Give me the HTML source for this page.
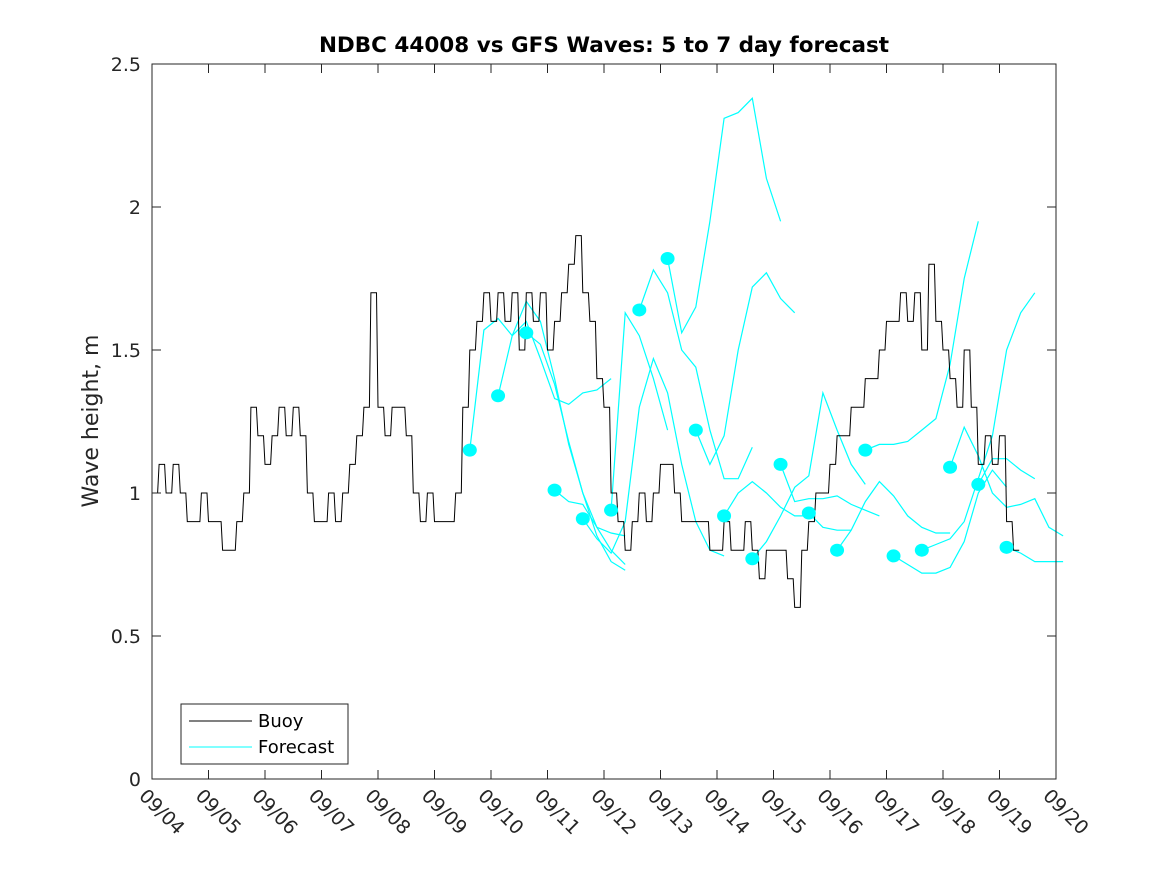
<!DOCTYPE html>
<html><head><meta charset="utf-8"><style>
html,body{margin:0;padding:0;background:#fff;}
svg{display:block;font-family:"DejaVu Sans","Liberation Sans",sans-serif;}
</style></head><body>
<svg id="chart" width="1167" height="875" viewBox="0 0 1167 875" xmlns="http://www.w3.org/2000/svg">
<rect width="1167" height="875" fill="#fff"/>
<text x="604" y="52" text-anchor="middle" font-size="21.5" font-weight="bold" fill="#000">NDBC 44008 vs GFS Waves: 5 to 7 day forecast</text>
<text transform="translate(98,421) rotate(-90)" text-anchor="middle" font-size="22" fill="#262626">Wave height, m</text>
<g id="plot"></g>
<g id="axes"></g>
<g>
<rect x="181" y="704" width="167" height="60" fill="#fff" stroke="#262626" stroke-width="1"/>
<line x1="189" y1="721" x2="252" y2="721" stroke="#000" stroke-width="1"/>
<text x="258" y="727" font-size="18" fill="#000">Buoy</text>
<line x1="189" y1="747" x2="252" y2="747" stroke="#00ffff" stroke-width="1"/>
<text x="258" y="753" font-size="18" fill="#000">Forecast</text>
</g>
</svg>
<script>
const xTickLabels=["09/04","09/05","09/06","09/07","09/08","09/09","09/10","09/11","09/12","09/13","09/14","09/15","09/16","09/17","09/18","09/19","09/20"];
const yTicks=[0,0.5,1,1.5,2,2.5];
const yTickLabels=["0","0.5","1","1.5","2","2.5"];
const buoyStartDay=0;
const buoyStep=0.125;
const buoyValues=[
1.0,1.1,1.0,1.1,1.0,0.9,0.9,1.0,
0.9,0.9,0.8,0.8,0.9,1.0,1.3,1.2,
1.1,1.2,1.3,1.2,1.3,1.2,1.0,0.9,
0.9,1.0,0.9,1.0,1.1,1.2,1.3,1.7,
1.3,1.2,1.3,1.3,1.2,1.0,0.9,1.0,
0.9,0.9,0.9,1.0,1.3,1.5,1.6,1.7,
1.6,1.7,1.6,1.7,1.5,1.7,1.6,1.7,
1.5,1.6,1.7,1.8,1.9,1.7,1.6,1.4,
1.3,1.0,0.9,0.8,0.9,1.0,0.9,1.0,
1.1,1.1,1.0,0.9,0.9,0.9,0.9,0.8,
0.8,0.9,0.8,0.8,0.9,0.8,0.7,0.8,
0.8,0.8,0.7,0.6,0.8,0.9,1.0,1.0,
1.1,1.2,1.2,1.3,1.3,1.4,1.4,1.5,
1.6,1.6,1.7,1.6,1.7,1.5,1.8,1.6,
1.5,1.4,1.3,1.5,1.3,1.1,1.2,1.1,
1.2,0.9,0.8];
const fcStep=0.25;
const fcStarts=[5.625,6.125,6.625,7.125,7.625,8.125,8.625,9.125,9.625,10.125,10.625,11.125,11.625,12.125,12.625,13.125,13.625,14.125,14.625,15.125];
const fc0=[1.15,1.57,1.61,1.55,1.60,1.47,1.33,1.31,1.35,1.36,1.40];
const fc1=[1.34,1.55,1.67,1.60,1.40,1.17,1.00,0.85,0.76,0.73];
const fc2=[1.56,1.52,1.38,1.18,1.00,0.88,0.80,0.75];
const fc3=[1.01,0.97,0.96,0.88,0.86,0.85];
const fc4=[0.91,0.84,0.79,0.90,1.30,1.47,1.35,1.10,0.90,0.80,0.78];
const fc5=[0.94,1.63,1.55,1.40,1.22];
const fc6=[1.64,1.78,1.70,1.50,1.44,1.22,1.05,1.05,1.16];
const fc7=[1.82,1.56,1.65,1.95,2.31,2.33,2.38,2.10,1.95];
const fc8=[1.22,1.10,1.20,1.50,1.72,1.77,1.68,1.63];
const fc9=[0.92,1.00,1.04,1.00,0.95,0.92,0.92];
const fc10=[0.77,0.83,0.92,1.02,1.06,1.35,1.22,1.10,1.03];
const fc11=[1.10,0.97,0.98,0.98,0.99,0.96,0.94,0.92];
const fc12=[0.93,0.88,0.87,0.87];
const fc13=[0.80,0.87,0.97,1.04,0.99,0.92,0.88,0.86,0.86];
const fc14=[1.15,1.17,1.17,1.18,1.22,1.26,1.45,1.75,1.95];
const fc15=[0.78,0.75,0.72,0.72,0.74,0.83,1.00,1.08,1.02];
const fc16=[0.80,0.82,0.84,0.90,1.05,1.20,1.50,1.63,1.70];
const fc17=[1.09,1.23,1.13,1.00,0.95,0.96,0.98,0.88,0.85];
const fc18=[1.03,1.12,1.12,1.08,1.05];
const fc19=[0.81,0.79,0.76,0.76,0.76];
const fcSeries=[fc0,fc1,fc2,fc3,fc4,fc5,fc6,fc7,fc8,fc9,fc10,fc11,fc12,fc13,fc14,fc15,fc16,fc17,fc18,fc19];

const L=152,R=1056,T=64,B=779,xMax=16,yMax=2.5;
const xs=d=>L+(R-L)*d/xMax;
const ys=v=>B-(B-T)*v/yMax;
const NS="http://www.w3.org/2000/svg";
const plot=document.getElementById('plot'),axes=document.getElementById('axes');
function mk(tag,attrs,parent){const e=document.createElementNS(NS,tag);for(const k in attrs)e.setAttribute(k,attrs[k]);parent.appendChild(e);return e;}

fcSeries.forEach((s,i)=>{
  const pts=s.map((v,j)=>xs(fcStarts[i]+j*fcStep).toFixed(1)+','+ys(v).toFixed(1)).join(' ');
  const pl=mk('polyline',{points:pts,fill:'none',stroke:'#00ffff','stroke-width':1.2},plot);
  
  
});
let bp=[];
buoyValues.forEach((v,j)=>{
  const x0=xs(buoyStartDay+j*buoyStep), x1=xs(buoyStartDay+(j+1)*buoyStep)-1.5, y=ys(v);
  bp.push(x0.toFixed(1)+','+y.toFixed(1));
  bp.push(x1.toFixed(1)+','+y.toFixed(1));
});
const bl=mk('polyline',{points:bp.join(' '),fill:'none',stroke:'#000','stroke-width':1},plot);


fcSeries.forEach((s,i)=>{
  const c=mk('ellipse',{cx:xs(fcStarts[i]),cy:ys(s[0]),rx:7,ry:6.5,fill:'#00ffff'},plot);
  
  
});

mk('rect',{x:L,y:T,width:R-L,height:B-T,fill:'none',stroke:'#262626','stroke-width':1},axes);
xTickLabels.forEach((lab,i)=>{
  const x=xs(i);
  mk('line',{x1:x,y1:B,x2:x,y2:B-9,stroke:'#262626'},axes);
  mk('line',{x1:x,y1:T,x2:x,y2:T+9,stroke:'#262626'},axes);
  const t=mk('text',{transform:`translate(${x-14},${B+18}) rotate(45)`,'font-size':19,fill:'#262626'},axes);
  t.textContent=lab;
  
  
});
yTicks.forEach((v,i)=>{
  const y=ys(v);
  mk('line',{x1:L,y1:y,x2:L+9,y2:y,stroke:'#262626'},axes);
  mk('line',{x1:R,y1:y,x2:R-9,y2:y,stroke:'#262626'},axes);
  const t=mk('text',{x:L-11,y:y+7,'text-anchor':'end','font-size':19,fill:'#262626'},axes);
  t.textContent=yTickLabels[i];
  
  
});
</script>
</body></html>
